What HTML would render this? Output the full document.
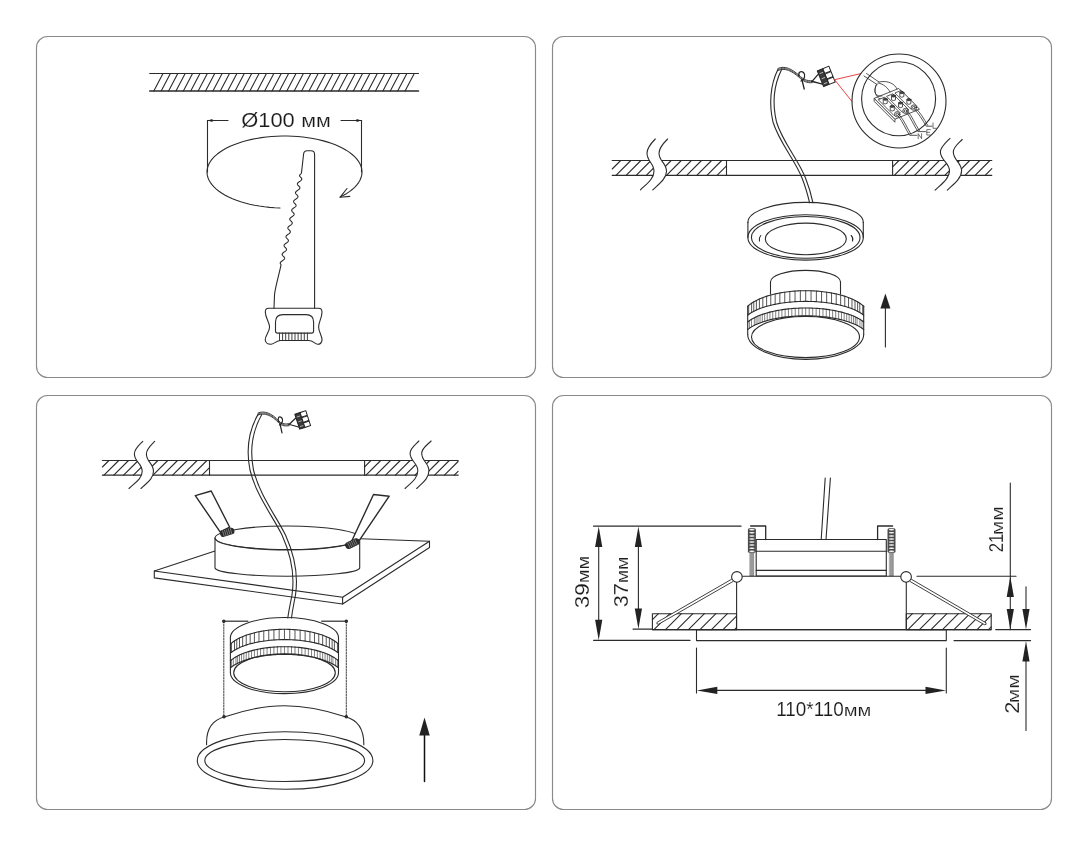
<!DOCTYPE html>
<html><head><meta charset="utf-8"><style>
html,body{margin:0;padding:0;background:#fff;}
svg{display:block;}
</style></head><body>
<svg width="1088" height="846" viewBox="0 0 1088 846">
<rect width="1088" height="846" fill="#fff"/>
<g fill="none" stroke="#8a8a8a" stroke-width="1.15">
<rect x="36.5" y="36.5" width="499" height="341" rx="11" ry="11"/>
<rect x="552.5" y="36.5" width="499" height="341" rx="11" ry="11"/>
<rect x="36.5" y="395.5" width="499" height="414" rx="11" ry="11"/>
<rect x="552.5" y="395.5" width="499" height="414" rx="11" ry="11"/>
</g>
<g fill="none" stroke="#2b2b2b" stroke-width="1.1" stroke-linecap="round" stroke-linejoin="round">
<line x1="149.7" y1="73.5" x2="418.5" y2="73.5" stroke-width="1.1"/>
<line x1="149.7" y1="91" x2="418.5" y2="91" stroke-width="1.6"/>
<line x1="153.8" y1="91" x2="163" y2="73.5"/>
<line x1="161.19" y1="91" x2="170.39" y2="73.5"/>
<line x1="168.58" y1="91" x2="177.78" y2="73.5"/>
<line x1="175.97" y1="91" x2="185.17" y2="73.5"/>
<line x1="183.36" y1="91" x2="192.56" y2="73.5"/>
<line x1="190.75" y1="91" x2="199.95" y2="73.5"/>
<line x1="198.14" y1="91" x2="207.34" y2="73.5"/>
<line x1="205.53" y1="91" x2="214.73" y2="73.5"/>
<line x1="212.92" y1="91" x2="222.12" y2="73.5"/>
<line x1="220.31" y1="91" x2="229.51" y2="73.5"/>
<line x1="227.7" y1="91" x2="236.9" y2="73.5"/>
<line x1="235.09" y1="91" x2="244.29" y2="73.5"/>
<line x1="242.48" y1="91" x2="251.68" y2="73.5"/>
<line x1="249.87" y1="91" x2="259.07" y2="73.5"/>
<line x1="257.26" y1="91" x2="266.46" y2="73.5"/>
<line x1="264.65" y1="91" x2="273.85" y2="73.5"/>
<line x1="272.04" y1="91" x2="281.24" y2="73.5"/>
<line x1="279.43" y1="91" x2="288.63" y2="73.5"/>
<line x1="286.82" y1="91" x2="296.02" y2="73.5"/>
<line x1="294.21" y1="91" x2="303.41" y2="73.5"/>
<line x1="301.6" y1="91" x2="310.8" y2="73.5"/>
<line x1="308.99" y1="91" x2="318.19" y2="73.5"/>
<line x1="316.38" y1="91" x2="325.58" y2="73.5"/>
<line x1="323.77" y1="91" x2="332.97" y2="73.5"/>
<line x1="331.16" y1="91" x2="340.36" y2="73.5"/>
<line x1="338.55" y1="91" x2="347.75" y2="73.5"/>
<line x1="345.94" y1="91" x2="355.14" y2="73.5"/>
<line x1="353.33" y1="91" x2="362.53" y2="73.5"/>
<line x1="360.72" y1="91" x2="369.92" y2="73.5"/>
<line x1="368.11" y1="91" x2="377.31" y2="73.5"/>
<line x1="375.5" y1="91" x2="384.7" y2="73.5"/>
<line x1="382.89" y1="91" x2="392.09" y2="73.5"/>
<line x1="390.28" y1="91" x2="399.48" y2="73.5"/>
<line x1="397.67" y1="91" x2="406.87" y2="73.5"/>
<line x1="405.06" y1="91" x2="414.26" y2="73.5"/>
<line x1="207.5" y1="120.5" x2="228" y2="120.5"/>
<line x1="341" y1="120.5" x2="361.5" y2="120.5"/>
<line x1="207.5" y1="120.5" x2="207.5" y2="172"/>
<line x1="361.5" y1="120.5" x2="361.5" y2="172"/>
<polygon points="207.5,120.5 212.5,119 212.5,122" fill="#222" stroke="none"/>
<polygon points="361.5,120.5 356.5,119 356.5,122" fill="#222" stroke="none"/>
<path d="M280,207.94 L274.77,207.71 L269.58,207.33 L264.46,206.78 L259.43,206.06 L254.51,205.2 L249.74,204.18 L245.12,203.01 L240.69,201.7 L236.46,200.25 L232.45,198.67 L228.67,196.97 L225.16,195.16 L221.92,193.23 L218.96,191.21 L216.31,189.11 L213.97,186.92 L211.95,184.66 L210.27,182.35 L208.93,179.99 L207.94,177.59 L207.3,175.17 L207.02,172.73 L207.09,170.29 L207.52,167.86 L208.3,165.44 L209.43,163.06 L210.91,160.71 L212.72,158.42 L214.87,156.19 L217.34,154.04 L220.11,151.96 L223.18,149.98 L226.54,148.1 L230.16,146.33 L234.03,144.68 L238.13,143.15 L242.45,141.76 L246.95,140.51 L251.64,139.4 L256.47,138.44 L261.43,137.63 L266.5,136.98 L271.65,136.5 L276.86,136.18 L282.11,136.02 L287.36,136.02 L292.61,136.2 L297.81,136.53 L302.96,137.04 L308.02,137.7 L312.97,138.52 L317.79,139.49 L322.45,140.61 L326.95,141.88 L331.25,143.29 L335.33,144.82 L339.18,146.49 L342.77,148.27 L346.1,150.16 L349.15,152.15 L351.9,154.23 L354.34,156.39 L356.45,158.63 L358.24,160.92 L359.69,163.27 L360.79,165.66 L361.54,168.07 L361.93,170.51 L361.97,172.95 L361.66,175.39 L360.98,177.81 L359.96,180.2 L358.59,182.56 L356.88,184.87 L354.84,187.12 L352.47,189.3 L349.79,191.4 L346.81,193.41 L343.54,195.32 L340,197.13 "/>
<path d="M347,188.5 L340.2,197.2 L349.8,196.4"/>
<path d="M314.6,308.3 L314.6,154.5 Q314.6,150.8 311,150.8 L307,150.8 Q304,150.8 303.6,154 L301.5,172.7 L301.5,172.7 L301.36,173.1 L301.1,173.5 L300.77,173.9 L300.4,174.3 L300.05,174.7 L299.76,175.1 L299.58,175.5 L299.56,175.9 L299.8,176.3 L300.15,176.7 L300.55,177.1 L300.94,177.5 L301.29,177.9 L301.57,178.3 L301.75,178.7 L301.8,179.1 L301.71,179.5 L301.49,179.9 L301.14,180.3 L300.69,180.7 L300.16,181.1 L299.59,181.5 L299.03,181.9 L298.5,182.3 L298.05,182.7 L297.7,183.1 L297.48,183.5 L297.39,183.9 L297.44,184.3 L297.62,184.7 L297.89,185.1 L298.25,185.5 L298.64,185.9 L299.03,186.3 L299.39,186.7 L299.66,187.1 L299.84,187.5 L299.89,187.9 L299.8,188.3 L299.58,188.7 L299.23,189.1 L298.78,189.5 L298.25,189.9 L297.69,190.3 L297.12,190.7 L296.59,191.1 L296.14,191.5 L295.79,191.9 L295.57,192.3 L295.48,192.7 L295.53,193.1 L295.71,193.5 L295.99,193.9 L296.34,194.3 L296.73,194.7 L297.13,195.1 L297.48,195.5 L297.76,195.9 L297.93,196.3 L297.98,196.7 L297.9,197.1 L297.67,197.5 L297.32,197.9 L296.87,198.3 L296.35,198.7 L295.78,199.1 L295.21,199.5 L294.69,199.9 L294.23,200.3 L293.89,200.7 L293.66,201.1 L293.58,201.5 L293.63,201.9 L293.8,202.3 L294.08,202.7 L294.43,203.1 L294.83,203.5 L295.22,203.9 L295.57,204.3 L295.85,204.7 L296.03,205.1 L296.08,205.5 L295.99,205.9 L295.77,206.3 L295.42,206.7 L294.97,207.1 L294.44,207.5 L293.87,207.9 L293.31,208.3 L292.78,208.7 L292.33,209.1 L291.98,209.5 L291.76,209.9 L291.67,210.3 L291.72,210.7 L291.89,211.1 L292.17,211.5 L292.53,211.9 L292.92,212.3 L293.31,212.7 L293.67,213.1 L293.94,213.5 L294.12,213.9 L294.17,214.3 L294.08,214.7 L293.86,215.1 L293.51,215.5 L293.06,215.9 L292.53,216.3 L291.97,216.7 L291.4,217.1 L290.87,217.5 L290.42,217.9 L290.07,218.3 L289.85,218.7 L289.76,219.1 L289.81,219.5 L289.99,219.9 L290.27,220.3 L290.62,220.7 L291.01,221.1 L291.4,221.5 L291.76,221.9 L292.04,222.3 L292.21,222.7 L292.26,223.1 L292.18,223.5 L291.95,223.9 L291.6,224.3 L291.15,224.7 L290.62,225.1 L290.06,225.5 L289.49,225.9 L288.97,226.3 L288.51,226.7 L288.17,227.1 L287.94,227.5 L287.86,227.9 L287.91,228.3 L288.08,228.7 L288.36,229.1 L288.71,229.5 L289.11,229.9 L289.5,230.3 L289.85,230.7 L290.13,231.1 L290.31,231.5 L290.35,231.9 L290.27,232.3 L290.05,232.7 L289.7,233.1 L289.24,233.5 L288.72,233.9 L288.15,234.3 L287.59,234.7 L287.06,235.1 L286.61,235.5 L286.26,235.9 L286.04,236.3 L285.95,236.7 L286,237.1 L286.17,237.5 L286.45,237.9 L286.81,238.3 L287.2,238.7 L287.59,239.1 L287.94,239.5 L288.22,239.9 L288.4,240.3 L288.45,240.7 L288.36,241.1 L288.14,241.5 L287.79,241.9 L287.34,242.3 L286.81,242.7 L286.25,243.1 L285.68,243.5 L285.15,243.9 L284.7,244.3 L284.35,244.7 L284.13,245.1 L284.04,245.5 L284.09,245.9 L284.27,246.3 L284.55,246.7 L284.9,247.1 L285.29,247.5 L285.68,247.9 L286.04,248.3 L286.32,248.7 L286.49,249.1 L286.54,249.5 L286.45,249.9 L286.23,250.3 L285.88,250.7 L285.43,251.1 L284.9,251.5 L284.34,251.9 L283.77,252.3 L283.25,252.7 L282.79,253.1 L282.45,253.5 L282.22,253.9 L282.14,254.3 L282.19,254.7 L282.36,255.1 L282.64,255.5 L282.99,255.9 L283.39,256.3 L283.78,256.7 L284.13,257.1 L284.41,257.5 L284.58,257.9 L284.63,258.3 L284.55,258.7 L284.32,259.1 L283.98,259.5 L283.52,259.9 L283,260.3 L282.43,260.7 L281.87,261.1 L281.34,261.5 L280.89,261.9 L280.54,262.3 L280.32,262.7 L280.23,263.1 L280.28,263.5 L280.45,263.9 L280.73,264.3 L281.09,264.7 C279,275 275,288 274.5,295 L274,308.3"/>
<path d="M268.5,308.3 L318.5,308.3 Q322,308.3 322,312 C322,318 318.6,322 318.6,327.1 C318.6,332 322.5,336 322,340.5 Q321,344.5 317.5,344.3 C314,343.5 313,340.5 309,340.5 L280.5,340.5 C276.5,340.5 275,343.5 271.2,344.3 Q266,344.5 265.2,340 C264.8,336 269.6,332 269.6,327.1 C269.6,322 265.3,318 265.3,312 Q265.3,308.3 268.5,308.3 Z" stroke-width="1.1"/>
<path d="M275.5,331 L275.5,322 Q275.5,314.6 283,314.6 L306,314.6 Q313.6,314.6 313.6,322 L313.6,331 Q313.6,333.1 311.5,333.1 L277.5,333.1 Q275.5,333.1 275.5,331 Z" stroke-width="1.1"/>
<line x1="279.5" y1="333.1" x2="279.5" y2="340.5" stroke-width="0.9"/>
<line x1="282.6" y1="333.1" x2="282.6" y2="340.5" stroke-width="0.9"/>
<line x1="285.7" y1="333.1" x2="285.7" y2="340.5" stroke-width="0.9"/>
<line x1="288.8" y1="333.1" x2="288.8" y2="340.5" stroke-width="0.9"/>
<line x1="291.9" y1="333.1" x2="291.9" y2="340.5" stroke-width="0.9"/>
<line x1="295" y1="333.1" x2="295" y2="340.5" stroke-width="0.9"/>
<line x1="298.1" y1="333.1" x2="298.1" y2="340.5" stroke-width="0.9"/>
<line x1="301.2" y1="333.1" x2="301.2" y2="340.5" stroke-width="0.9"/>
<line x1="304.3" y1="333.1" x2="304.3" y2="340.5" stroke-width="0.9"/>
<line x1="307.4" y1="333.1" x2="307.4" y2="340.5" stroke-width="0.9"/>
<line x1="612.2" y1="160.5" x2="991.8" y2="160.5" stroke-width="1.2"/>
<line x1="612.2" y1="175.3" x2="991.8" y2="175.3" stroke-width="1.2"/>
<line x1="726.5" y1="160.5" x2="726.5" y2="175.3"/>
<line x1="892.6" y1="160.5" x2="892.6" y2="175.3"/>
<line x1="612.2" y1="169" x2="620.7" y2="160.5"/>
<line x1="616" y1="175.3" x2="630.8" y2="160.5"/>
<line x1="626.1" y1="175.3" x2="640.9" y2="160.5"/>
<line x1="636.2" y1="175.3" x2="651" y2="160.5"/>
<line x1="646.3" y1="175.3" x2="661.1" y2="160.5"/>
<line x1="656.4" y1="175.3" x2="671.2" y2="160.5"/>
<line x1="666.5" y1="175.3" x2="681.3" y2="160.5"/>
<line x1="676.6" y1="175.3" x2="691.4" y2="160.5"/>
<line x1="686.7" y1="175.3" x2="701.5" y2="160.5"/>
<line x1="696.8" y1="175.3" x2="711.6" y2="160.5"/>
<line x1="706.9" y1="175.3" x2="721.7" y2="160.5"/>
<line x1="717" y1="175.3" x2="726.5" y2="165.8"/>
<line x1="892.6" y1="166.9" x2="899" y2="160.5"/>
<line x1="894.3" y1="175.3" x2="909.1" y2="160.5"/>
<line x1="904.4" y1="175.3" x2="919.2" y2="160.5"/>
<line x1="914.5" y1="175.3" x2="929.3" y2="160.5"/>
<line x1="924.6" y1="175.3" x2="939.4" y2="160.5"/>
<line x1="934.7" y1="175.3" x2="949.5" y2="160.5"/>
<line x1="944.8" y1="175.3" x2="959.6" y2="160.5"/>
<line x1="954.9" y1="175.3" x2="969.7" y2="160.5"/>
<line x1="965" y1="175.3" x2="979.8" y2="160.5"/>
<line x1="975.1" y1="175.3" x2="989.9" y2="160.5"/>
<line x1="985.2" y1="175.3" x2="991.8" y2="168.7"/>
<path d="M655.3,139 C651.3,143 647,148.2 647,153.2 C647,161.2 654,163.2 654,171.2 C654,179.2 645.5,184.8 640.5,189.8 L652.8,189.8 C657.8,184.8 666.5,179.2 666.5,171.2 C666.5,163.2 659,161.2 659,153.2 C659,148.2 663.6,143 667.6,139 Z" fill="#fff" stroke="none"/>
<path d="M655.3,139 C651.3,143 647,148.2 647,153.2 C647,161.2 654,163.2 654,171.2 C654,179.2 645.5,184.8 640.5,189.8"/>
<path d="M667.6,139 C663.6,143 659,148.2 659,153.2 C659,161.2 666.5,163.2 666.5,171.2 C666.5,179.2 657.8,184.8 652.8,189.8"/>
<path d="M950,138.3 C946,142.3 940.4,147 940.4,152 C940.4,160 949.5,162.8 949.5,170.8 C949.5,178.8 940.1,185.1 935.1,190.1 L947.3,190.1 C952.3,185.1 961.6,178.8 961.6,170.8 C961.6,162.8 953.3,160 953.3,152 C953.3,147 958.2,143.5 962.2,139.5 Z" fill="#fff" stroke="none"/>
<path d="M950,138.3 C946,142.3 940.4,147 940.4,152 C940.4,160 949.5,162.8 949.5,170.8 C949.5,178.8 940.1,185.1 935.1,190.1"/>
<path d="M962.2,139.5 C958.2,143.5 953.3,147 953.3,152 C953.3,160 961.6,162.8 961.6,170.8 C961.6,178.8 952.3,185.1 947.3,190.1"/>
<path d="M778,69.2 C770,85 769,105 773,122 C779,142 795,160 802,178 C806,188 808,196 809.6,202.8"/>
<path d="M781.5,69.8 C773.5,86 772.5,105 776.5,122 C782.5,142 798.5,160 805.5,178 C809.5,188 811.5,196 813,202.8"/>
<path d="M778,68.4 C785,65.2 792,69.2 799,75.2 C803,79.2 807,81.2 812,80.7" stroke-width="0.9" stroke="#222"/>
<path d="M778,69.4 C785,66.2 792,70.2 799,76.2 C803,80.2 807,82.2 812,81.7" stroke-width="0.9" stroke="#555"/>
<path d="M778,70.4 C785,67.2 792,71.2 799,77.2 C803,81.2 807,83.2 812,82.7" stroke-width="0.9" stroke="#222"/>
<path d="M812,81.5 C815,78 818,74 821,72" stroke-width="1.3" stroke="#222"/>
<path d="M812,81.5 C816,82 819,83.5 822.6,84" stroke-width="1.3" stroke="#222"/>
<path d="M799,76 C798,72 801,70.5 803.5,72.5 C806,75 804.5,80 801,81" stroke-width="1.3" stroke="#222"/>
<path d="M802,80 L804.2,89" stroke-width="1.3" stroke="#222"/>
<g transform="translate(826,76.5) rotate(-22) scale(1.0)" stroke-width="1" stroke="#222">
<rect x="-6" y="-8.5" width="6" height="17" fill="#3a3a3a"/>
<rect x="0" y="-8.5" width="6.5" height="5.2" fill="#fff"/>
<rect x="0" y="-2.6" width="6.5" height="5.2" fill="#fff"/>
<rect x="0" y="3.3" width="6.5" height="5.2" fill="#fff"/>
<path d="M-4.5,-5 L-1.5,-5 M-4.5,0.5 L-1.5,0.5 M-4.5,6 L-1.5,6" stroke="#ddd" stroke-width="0.7"/>
</g>
<path d="M834.6,79.7 L860.8,73.6 M834.6,79.7 L852,101.5" stroke="#e03030" stroke-width="0.9"/>
<circle cx="899" cy="101" r="47"/>
<circle cx="898.6" cy="98.8" r="37"/>
<g stroke-width="0.8">
<polygon points="874.48,98.63 894.92,119.19 894.92,122.19 874.48,101.63" fill="#fff"/>
<polygon points="874.48,98.63 894.92,119.19 919.49,109.28 899.04,88.72" fill="#fff"/>
<path d="M864,76 L877,84.5 M866.5,73.5 L879,82"/>
<path d="M877,84 C872,92 876,97 882,96"/>
<path d="M878,83 C884,84 888,88 890,92"/>
<path d="M879,82 C888,80 895,84 897,89"/>
<path d="M876,85 C872,96 880,100 884,100"/>
<polygon points="895.14,93.27 910.65,108.87 916.95,106.33 901.44,90.73" fill="#fff"/>
<circle cx="913.8" cy="107.6" r="2.7" fill="#fff"/>
<circle cx="913.8" cy="107.6" r="1.3"/>
<path d="M899.82,92.55 L899.82,96.55 Q901.82,97.95 903.82,96.55 L903.82,92.55" fill="#fff"/>
<ellipse cx="901.82" cy="92.55" rx="2" ry="1.1" fill="#444"/>
<path d="M906.87,99.64 L906.87,103.64 Q908.87,105.04 910.87,103.64 L910.87,99.64" fill="#fff"/>
<ellipse cx="908.87" cy="99.64" rx="2" ry="1.1" fill="#444"/>
<polygon points="886.84,96.62 902.35,112.22 908.65,109.68 893.14,94.08" fill="#fff"/>
<circle cx="905.5" cy="110.95" r="2.7" fill="#fff"/>
<circle cx="905.5" cy="110.95" r="1.3"/>
<path d="M891.51,95.9 L891.51,99.9 Q893.51,101.3 895.51,99.9 L895.51,95.9" fill="#fff"/>
<ellipse cx="893.51" cy="95.9" rx="2" ry="1.1" fill="#444"/>
<path d="M898.57,102.99 L898.57,106.99 Q900.57,108.39 902.57,106.99 L902.57,102.99" fill="#fff"/>
<ellipse cx="900.57" cy="102.99" rx="2" ry="1.1" fill="#444"/>
<polygon points="878.54,99.97 894.05,115.57 900.35,113.03 884.84,97.43" fill="#fff"/>
<circle cx="897.2" cy="114.3" r="2.7" fill="#fff"/>
<circle cx="897.2" cy="114.3" r="1.3"/>
<path d="M883.22,99.25 L883.22,103.25 Q885.22,104.65 887.22,103.25 L887.22,99.25" fill="#fff"/>
<ellipse cx="885.22" cy="99.25" rx="2" ry="1.1" fill="#444"/>
<path d="M890.27,106.34 L890.27,110.34 Q892.27,111.74 894.27,110.34 L894.27,106.34" fill="#fff"/>
<ellipse cx="892.27" cy="106.34" rx="2" ry="1.1" fill="#444"/>
<path d="M898.5,116.5 C903,122 905,128 909.6,135.3 L917,135.3"/>
<path d="M899.8,115.5 C904.5,121 906.5,127 911,134.3"/>
<path d="M906.8,112.8 C911,118 913,124 917.9,131.6 L925.5,131.6"/>
<path d="M908.2,111.8 C912.5,117 914.5,123 919.3,130.6"/>
<path d="M915,110 C919,114 922,119 926.2,126.2 L932,126.2"/>
<path d="M916.4,109 C920.5,113 923.5,118 927.6,125.2"/>
</g>
<g stroke-width="0.75" stroke="#444">
<path d="M918.2,138.7 L918.2,133.7 L921.6,138.7 L921.6,133.7"/>
<path d="M930.3,129.6 L926.8,129.6 L926.8,135 L930.3,135 M926.8,132.3 L929.6,132.3"/>
<path d="M933,123 L933,128.3 L936.5,128.3"/>
</g>
<path d="M747.9,222.4 A57.7,20 0 0 1 863.3,222.4"/>
<line x1="747.9" y1="222.4" x2="747.9" y2="237.4"/>
<line x1="863.3" y1="222.4" x2="863.3" y2="237.4"/>
<ellipse cx="805.6" cy="237.4" rx="57.7" ry="22.7"/>
<ellipse cx="805.7" cy="237.4" rx="54.3" ry="20.9"/>
<ellipse cx="805.8" cy="238.9" rx="40.5" ry="15.8"/>
<path d="M760.8,235.5 Q758.6,238 759.5,241"/>
<path d="M851.2,235.5 Q853.6,238 852.5,241"/>
<path d="M770.5,282 A35,11.6 0 0 1 840.5,282"/>
<line x1="770.5" y1="282" x2="770.5" y2="294"/>
<line x1="840.5" y1="282" x2="840.5" y2="294"/>
<path d="M747.7,306.2 L749.63,304.59 L751.57,303.21 L753.5,301.99 L755.43,300.91 L757.37,299.93 L759.3,299.03 L761.23,298.22 L763.17,297.47 L765.1,296.77 L767.03,296.14 L768.97,295.55 L770.9,295 L772.83,294.5 L774.77,294.03 L776.7,293.6 L778.63,293.21 L780.57,292.85 L782.5,292.52 L784.43,292.22 L786.37,291.95 L788.3,291.71 L790.23,291.49 L792.17,291.3 L794.1,291.14 L796.03,291.01 L797.97,290.9 L799.9,290.81 L801.83,290.75 L803.77,290.71 L805.7,290.7 L807.63,290.71 L809.57,290.75 L811.5,290.81 L813.43,290.9 L815.37,291.01 L817.3,291.14 L819.23,291.3 L821.17,291.49 L823.1,291.71 L825.03,291.95 L826.97,292.22 L828.9,292.52 L830.83,292.85 L832.77,293.21 L834.7,293.6 L836.63,294.03 L838.57,294.5 L840.5,295 L842.43,295.55 L844.37,296.14 L846.3,296.77 L848.23,297.47 L850.17,298.22 L852.1,299.03 L854.03,299.93 L855.97,300.91 L857.9,301.99 L859.83,303.21 L861.77,304.59 L863.7,306.2 "/>
<line x1="747.7" y1="306.2" x2="747.7" y2="334.3"/>
<line x1="863.7" y1="306.2" x2="863.7" y2="334.3"/>
<path d="M747.7,315.2 L749.63,313.77 L751.57,312.54 L753.5,311.45 L755.43,310.49 L757.37,309.61 L759.3,308.82 L761.23,308.09 L763.17,307.42 L765.1,306.81 L767.03,306.24 L768.97,305.71 L770.9,305.23 L772.83,304.78 L774.77,304.37 L776.7,303.98 L778.63,303.63 L780.57,303.31 L782.5,303.02 L784.43,302.75 L786.37,302.51 L788.3,302.3 L790.23,302.11 L792.17,301.94 L794.1,301.79 L796.03,301.67 L797.97,301.57 L799.9,301.5 L801.83,301.44 L803.77,301.41 L805.7,301.4 L807.63,301.41 L809.57,301.44 L811.5,301.5 L813.43,301.57 L815.37,301.67 L817.3,301.79 L819.23,301.94 L821.17,302.11 L823.1,302.3 L825.03,302.51 L826.97,302.75 L828.9,303.02 L830.83,303.31 L832.77,303.63 L834.7,303.98 L836.63,304.37 L838.57,304.78 L840.5,305.23 L842.43,305.71 L844.37,306.24 L846.3,306.81 L848.23,307.42 L850.17,308.09 L852.1,308.82 L854.03,309.61 L855.97,310.49 L857.9,311.45 L859.83,312.54 L861.77,313.77 L863.7,315.2 "/>
<path d="M747.7,322 L749.63,320.55 L751.57,319.3 L753.5,318.2 L755.43,317.22 L757.37,316.33 L759.3,315.53 L761.23,314.79 L763.17,314.11 L765.1,313.49 L767.03,312.91 L768.97,312.38 L770.9,311.88 L772.83,311.43 L774.77,311.01 L776.7,310.62 L778.63,310.27 L780.57,309.94 L782.5,309.64 L784.43,309.37 L786.37,309.13 L788.3,308.91 L790.23,308.72 L792.17,308.55 L794.1,308.4 L796.03,308.28 L797.97,308.18 L799.9,308.1 L801.83,308.04 L803.77,308.01 L805.7,308 L807.63,308.01 L809.57,308.04 L811.5,308.1 L813.43,308.18 L815.37,308.28 L817.3,308.4 L819.23,308.55 L821.17,308.72 L823.1,308.91 L825.03,309.13 L826.97,309.37 L828.9,309.64 L830.83,309.94 L832.77,310.27 L834.7,310.62 L836.63,311.01 L838.57,311.43 L840.5,311.88 L842.43,312.38 L844.37,312.91 L846.3,313.49 L848.23,314.11 L850.17,314.79 L852.1,315.53 L854.03,316.33 L855.97,317.22 L857.9,318.2 L859.83,319.3 L861.77,320.55 L863.7,322 "/>
<line x1="805.7" y1="290.7" x2="805.7" y2="301.4" stroke-width="0.8"/>
<line x1="800.35" y1="290.79" x2="800.35" y2="301.48" stroke-width="0.8"/>
<line x1="811.05" y1="290.79" x2="811.05" y2="301.48" stroke-width="0.8"/>
<line x1="795.04" y1="291.07" x2="795.04" y2="301.73" stroke-width="0.8"/>
<line x1="816.36" y1="291.07" x2="816.36" y2="301.73" stroke-width="0.8"/>
<line x1="789.83" y1="291.54" x2="789.83" y2="302.14" stroke-width="0.8"/>
<line x1="821.57" y1="291.54" x2="821.57" y2="302.14" stroke-width="0.8"/>
<line x1="784.75" y1="292.17" x2="784.75" y2="302.71" stroke-width="0.8"/>
<line x1="826.65" y1="292.17" x2="826.65" y2="302.71" stroke-width="0.8"/>
<line x1="831.55" y1="292.98" x2="831.55" y2="303.43" stroke-width="0.8"/>
<line x1="779.85" y1="292.98" x2="779.85" y2="303.43" stroke-width="0.8"/>
<line x1="775.17" y1="293.94" x2="775.17" y2="304.28" stroke-width="0.8"/>
<line x1="836.23" y1="293.94" x2="836.23" y2="304.28" stroke-width="0.8"/>
<line x1="770.75" y1="295.04" x2="770.75" y2="305.27" stroke-width="0.8"/>
<line x1="840.65" y1="295.04" x2="840.65" y2="305.27" stroke-width="0.8"/>
<line x1="766.63" y1="296.27" x2="766.63" y2="306.36" stroke-width="0.8"/>
<line x1="844.77" y1="296.27" x2="844.77" y2="306.36" stroke-width="0.8"/>
<line x1="762.84" y1="297.59" x2="762.84" y2="307.53" stroke-width="0.8"/>
<line x1="848.56" y1="297.59" x2="848.56" y2="307.53" stroke-width="0.8"/>
<line x1="759.42" y1="298.98" x2="759.42" y2="308.77" stroke-width="0.8"/>
<line x1="851.98" y1="298.98" x2="851.98" y2="308.77" stroke-width="0.8"/>
<line x1="756.39" y1="300.41" x2="756.39" y2="310.05" stroke-width="0.8"/>
<line x1="855.01" y1="300.41" x2="855.01" y2="310.05" stroke-width="0.8"/>
<line x1="753.78" y1="301.83" x2="753.78" y2="311.31" stroke-width="0.8"/>
<line x1="857.62" y1="301.83" x2="857.62" y2="311.31" stroke-width="0.8"/>
<line x1="751.62" y1="303.17" x2="751.62" y2="312.51" stroke-width="0.8"/>
<line x1="859.78" y1="303.17" x2="859.78" y2="312.51" stroke-width="0.8"/>
<line x1="748.69" y1="305.34" x2="748.69" y2="314.44" stroke-width="0.8"/>
<line x1="862.71" y1="305.34" x2="862.71" y2="314.44" stroke-width="0.8"/>
<line x1="805.7" y1="308" x2="805.7" y2="315.8" stroke-width="0.6"/>
<line x1="802.2" y1="308.04" x2="802.2" y2="315.84" stroke-width="0.6"/>
<line x1="809.2" y1="308.04" x2="809.2" y2="315.84" stroke-width="0.6"/>
<line x1="798.71" y1="308.14" x2="798.71" y2="315.94" stroke-width="0.6"/>
<line x1="812.69" y1="308.14" x2="812.69" y2="315.94" stroke-width="0.6"/>
<line x1="795.25" y1="308.32" x2="795.25" y2="316.12" stroke-width="0.6"/>
<line x1="816.15" y1="308.32" x2="816.15" y2="316.12" stroke-width="0.6"/>
<line x1="791.82" y1="308.57" x2="791.82" y2="316.36" stroke-width="0.6"/>
<line x1="819.58" y1="308.57" x2="819.58" y2="316.36" stroke-width="0.6"/>
<line x1="788.44" y1="308.89" x2="788.44" y2="316.68" stroke-width="0.6"/>
<line x1="822.96" y1="308.89" x2="822.96" y2="316.68" stroke-width="0.6"/>
<line x1="785.13" y1="309.28" x2="785.13" y2="317.05" stroke-width="0.6"/>
<line x1="826.27" y1="309.28" x2="826.27" y2="317.05" stroke-width="0.6"/>
<line x1="781.9" y1="309.73" x2="781.9" y2="317.5" stroke-width="0.6"/>
<line x1="829.5" y1="309.73" x2="829.5" y2="317.5" stroke-width="0.6"/>
<line x1="832.65" y1="310.25" x2="832.65" y2="318" stroke-width="0.6"/>
<line x1="778.75" y1="310.25" x2="778.75" y2="318" stroke-width="0.6"/>
<line x1="775.69" y1="310.82" x2="775.69" y2="318.56" stroke-width="0.6"/>
<line x1="835.71" y1="310.82" x2="835.71" y2="318.56" stroke-width="0.6"/>
<line x1="772.75" y1="311.45" x2="772.75" y2="319.17" stroke-width="0.6"/>
<line x1="838.65" y1="311.45" x2="838.65" y2="319.17" stroke-width="0.6"/>
<line x1="769.93" y1="312.13" x2="769.93" y2="319.84" stroke-width="0.6"/>
<line x1="841.47" y1="312.13" x2="841.47" y2="319.84" stroke-width="0.6"/>
<line x1="767.24" y1="312.85" x2="767.24" y2="320.55" stroke-width="0.6"/>
<line x1="844.16" y1="312.85" x2="844.16" y2="320.55" stroke-width="0.6"/>
<line x1="764.69" y1="313.62" x2="764.69" y2="321.29" stroke-width="0.6"/>
<line x1="846.71" y1="313.62" x2="846.71" y2="321.29" stroke-width="0.6"/>
<line x1="762.29" y1="314.41" x2="762.29" y2="322.08" stroke-width="0.6"/>
<line x1="849.11" y1="314.41" x2="849.11" y2="322.08" stroke-width="0.6"/>
<line x1="760.04" y1="315.24" x2="760.04" y2="322.88" stroke-width="0.6"/>
<line x1="851.36" y1="315.24" x2="851.36" y2="322.88" stroke-width="0.6"/>
<line x1="757.97" y1="316.07" x2="757.97" y2="323.7" stroke-width="0.6"/>
<line x1="853.43" y1="316.07" x2="853.43" y2="323.7" stroke-width="0.6"/>
<line x1="756.06" y1="316.92" x2="756.06" y2="324.53" stroke-width="0.6"/>
<line x1="855.34" y1="316.92" x2="855.34" y2="324.53" stroke-width="0.6"/>
<line x1="754.34" y1="317.76" x2="754.34" y2="325.35" stroke-width="0.6"/>
<line x1="857.06" y1="317.76" x2="857.06" y2="325.35" stroke-width="0.6"/>
<line x1="751.47" y1="319.36" x2="751.47" y2="326.91" stroke-width="0.6"/>
<line x1="859.93" y1="319.36" x2="859.93" y2="326.91" stroke-width="0.6"/>
<line x1="749.39" y1="320.72" x2="749.39" y2="328.25" stroke-width="0.6"/>
<line x1="862.01" y1="320.72" x2="862.01" y2="328.25" stroke-width="0.6"/>
<path d="M747.7,329.5 L749.63,328.08 L751.57,326.86 L753.5,325.78 L755.43,324.82 L757.37,323.95 L759.3,323.17 L761.23,322.44 L763.17,321.78 L765.1,321.17 L767.03,320.6 L768.97,320.08 L770.9,319.6 L772.83,319.16 L774.77,318.74 L776.7,318.37 L778.63,318.02 L780.57,317.7 L782.5,317.41 L784.43,317.14 L786.37,316.9 L788.3,316.69 L790.23,316.5 L792.17,316.33 L794.1,316.19 L796.03,316.07 L797.97,315.97 L799.9,315.9 L801.83,315.84 L803.77,315.81 L805.7,315.8 L807.63,315.81 L809.57,315.84 L811.5,315.9 L813.43,315.97 L815.37,316.07 L817.3,316.19 L819.23,316.33 L821.17,316.5 L823.1,316.69 L825.03,316.9 L826.97,317.14 L828.9,317.41 L830.83,317.7 L832.77,318.02 L834.7,318.37 L836.63,318.74 L838.57,319.16 L840.5,319.6 L842.43,320.08 L844.37,320.6 L846.3,321.17 L848.23,321.78 L850.17,322.44 L852.1,323.17 L854.03,323.95 L855.97,324.82 L857.9,325.78 L859.83,326.86 L861.77,328.08 L863.7,329.5 "/>
<path d="M747.7,334.3 A58,25.1 0 0 0 863.7,334.3"/>
<ellipse cx="805.5" cy="337" rx="54" ry="20.6"/>
<line x1="885.4" y1="347" x2="885.4" y2="300"/>
<polygon points="885.4,293.4 880.4,308.4 890.4,308.4" fill="#222" stroke="none"/>
<line x1="102.4" y1="460.5" x2="458.1" y2="460.5" stroke-width="1.2"/>
<line x1="102.4" y1="475.2" x2="458.1" y2="475.2" stroke-width="1.2"/>
<line x1="209.5" y1="460.5" x2="209.5" y2="475.2"/>
<line x1="364.6" y1="460.5" x2="364.6" y2="475.2"/>
<line x1="102.4" y1="467" x2="108.9" y2="460.5"/>
<line x1="104" y1="475.2" x2="118.7" y2="460.5"/>
<line x1="113.8" y1="475.2" x2="128.5" y2="460.5"/>
<line x1="123.6" y1="475.2" x2="138.3" y2="460.5"/>
<line x1="133.4" y1="475.2" x2="148.1" y2="460.5"/>
<line x1="143.2" y1="475.2" x2="157.9" y2="460.5"/>
<line x1="153" y1="475.2" x2="167.7" y2="460.5"/>
<line x1="162.8" y1="475.2" x2="177.5" y2="460.5"/>
<line x1="172.6" y1="475.2" x2="187.3" y2="460.5"/>
<line x1="182.4" y1="475.2" x2="197.1" y2="460.5"/>
<line x1="192.2" y1="475.2" x2="206.9" y2="460.5"/>
<line x1="202" y1="475.2" x2="209.5" y2="467.7"/>
<line x1="364.6" y1="466.8" x2="370.9" y2="460.5"/>
<line x1="366" y1="475.2" x2="380.7" y2="460.5"/>
<line x1="375.8" y1="475.2" x2="390.5" y2="460.5"/>
<line x1="385.6" y1="475.2" x2="400.3" y2="460.5"/>
<line x1="395.4" y1="475.2" x2="410.1" y2="460.5"/>
<line x1="405.2" y1="475.2" x2="419.9" y2="460.5"/>
<line x1="415" y1="475.2" x2="429.7" y2="460.5"/>
<line x1="424.8" y1="475.2" x2="439.5" y2="460.5"/>
<line x1="434.6" y1="475.2" x2="449.3" y2="460.5"/>
<line x1="444.4" y1="475.2" x2="458.1" y2="461.5"/>
<line x1="454.2" y1="475.2" x2="458.1" y2="471.3"/>
<path d="M142.8,441.4 C138.8,445.4 134.4,448.9 134.4,453.9 C134.4,461.9 142.2,463.2 142.2,471.2 C142.2,479.2 134,483.5 129,488.5 L141,488.5 C146,483.5 153.5,479.2 153.5,471.2 C153.5,463.2 146.4,461.9 146.4,453.9 C146.4,448.9 150.7,445.4 154.7,441.4 Z" fill="#fff" stroke="none"/>
<path d="M142.8,441.4 C138.8,445.4 134.4,448.9 134.4,453.9 C134.4,461.9 142.2,463.2 142.2,471.2 C142.2,479.2 134,483.5 129,488.5"/>
<path d="M154.7,441.4 C150.7,445.4 146.4,448.9 146.4,453.9 C146.4,461.9 153.5,463.2 153.5,471.2 C153.5,479.2 146,483.5 141,488.5"/>
<path d="M418.9,441 C414.9,445 410.1,448.2 410.1,453.2 C410.1,461.2 417.8,462.8 417.8,470.8 C417.8,478.8 410.1,483.5 405.1,488.5 L416.7,488.5 C421.7,483.5 428.9,478.8 428.9,470.8 C428.9,462.8 421.7,461.2 421.7,453.2 C421.7,448.2 427.1,445 431.1,441 Z" fill="#fff" stroke="none"/>
<path d="M418.9,441 C414.9,445 410.1,448.2 410.1,453.2 C410.1,461.2 417.8,462.8 417.8,470.8 C417.8,478.8 410.1,483.5 405.1,488.5"/>
<path d="M431.1,441 C427.1,445 421.7,448.2 421.7,453.2 C421.7,461.2 428.9,462.8 428.9,470.8 C428.9,478.8 421.7,483.5 416.7,488.5"/>
<path d="M215,551 L154.3,571 L154.3,577.9 L342.6,604 L429.5,547.5 L429.5,541.2 L360.6,538.7"/>
<path d="M154.3,571 L342.6,597.2 L429.5,541.2"/>
<line x1="342.6" y1="597.2" x2="342.6" y2="604"/>
<path d="M215,538 A72.4,12 0 0 0 359.7,538 L359.7,568 A72.4,8.5 0 0 1 215,568 Z" fill="#fff"/>
<ellipse cx="287.4" cy="538" rx="72.4" ry="12"/>
<path d="M195.3,495.6 L211.2,491 L229.7,527.2 L220.1,531.8 Z" fill="#fff" stroke-width="1.4"/>
<path d="M373.5,494.5 L389.2,496.2 L359.8,539.6 L351.6,541.3 Z" fill="#fff" stroke-width="1.4"/>
<g transform="translate(227.2,532.3) rotate(-17)"><rect x="-6.8" y="-2.8" width="13.6" height="5.6" rx="2.5" fill="#2a2a2a"/><line x1="-4" y1="-2.6" x2="-4" y2="2.6" stroke="#bbb" stroke-width="0.5"/><line x1="-2" y1="-2.6" x2="-2" y2="2.6" stroke="#bbb" stroke-width="0.5"/><line x1="0" y1="-2.6" x2="0" y2="2.6" stroke="#bbb" stroke-width="0.5"/><line x1="2" y1="-2.6" x2="2" y2="2.6" stroke="#bbb" stroke-width="0.5"/><line x1="4" y1="-2.6" x2="4" y2="2.6" stroke="#bbb" stroke-width="0.5"/></g>
<g transform="translate(352.4,543.6) rotate(-25)"><rect x="-7" y="-3" width="14" height="6" rx="2.7" fill="#2a2a2a"/><line x1="-4" y1="-2.6" x2="-4" y2="2.6" stroke="#bbb" stroke-width="0.5"/><line x1="-2" y1="-2.6" x2="-2" y2="2.6" stroke="#bbb" stroke-width="0.5"/><line x1="0" y1="-2.6" x2="0" y2="2.6" stroke="#bbb" stroke-width="0.5"/><line x1="2" y1="-2.6" x2="2" y2="2.6" stroke="#bbb" stroke-width="0.5"/><line x1="4" y1="-2.6" x2="4" y2="2.6" stroke="#bbb" stroke-width="0.5"/></g>
<path d="M258.2,414.1 C249,430 246,450 250,470 C256,495 272,515 282,535 C291,555 295,575 292,595 C290,605 288.5,612 287.8,618"/>
<path d="M261.8,414.6 C252.5,431 249.5,450 253.5,470 C259.5,495 275.5,515 285.5,535 C294.5,555 298.5,575 295.5,595 C293.5,605 292.2,612 291.5,618"/>
<path d="M258,413 C264,410.2 272,413.2 279,421.2 C282,424.2 286,424.2 289,423.7" stroke-width="0.9" stroke="#222"/>
<path d="M258,414 C264,411.2 272,414.2 279,422.2 C282,425.2 286,425.2 289,424.7" stroke-width="0.9" stroke="#555"/>
<path d="M258,415 C264,412.2 272,415.2 279,423.2 C282,426.2 286,426.2 289,425.7" stroke-width="0.9" stroke="#222"/>
<path d="M289,424.5 C292,422 295,418 299,415.5" stroke-width="1.2" stroke="#222"/>
<path d="M289,424.5 C293,425 297,427 301,427.5" stroke-width="1.2" stroke="#222"/>
<path d="M279,422 C277,418 279,415.5 281.5,417.5 C284,420 282,424 279.5,425" stroke-width="1.2" stroke="#222"/>
<path d="M280,424 L282,432.8" stroke-width="1.2" stroke="#222"/>
<g transform="translate(302.5,420) rotate(-18) scale(0.92)" stroke-width="1.09" stroke="#222">
<rect x="-6" y="-8.5" width="6" height="17" fill="#3a3a3a"/>
<rect x="0" y="-8.5" width="6.5" height="5.2" fill="#fff"/>
<rect x="0" y="-2.6" width="6.5" height="5.2" fill="#fff"/>
<rect x="0" y="3.3" width="6.5" height="5.2" fill="#fff"/>
<path d="M-4.5,-5 L-1.5,-5 M-4.5,0.5 L-1.5,0.5 M-4.5,6 L-1.5,6" stroke="#ddd" stroke-width="0.7"/>
</g>
<g stroke-dasharray="1.6,1.2" stroke-width="0.9">
<line x1="223.8" y1="621.3" x2="223.8" y2="716.8"/>
<line x1="346.3" y1="621.3" x2="346.3" y2="716.8"/>
</g>
<line x1="223.8" y1="621.3" x2="247.8" y2="621.3" stroke-width="1.6" stroke="#555"/>
<line x1="321.8" y1="621.3" x2="346.3" y2="621.3" stroke-width="1.6" stroke="#555"/>
<circle cx="223.8" cy="621.3" r="1.2" fill="#333"/>
<circle cx="346.3" cy="621.3" r="1.2" fill="#333"/>
<circle cx="224" cy="716.8" r="1.2" fill="#333"/>
<circle cx="346.3" cy="716.8" r="1.2" fill="#333"/>
<path d="M230.4,637.7 A54.05,20.2 0 0 1 338.5,637.7"/>
<line x1="230.4" y1="637.7" x2="230.4" y2="672.5"/>
<line x1="338.5" y1="637.7" x2="338.5" y2="672.5"/>
<path d="M230.4,644.1 L232.2,642.56 L234,641.24 L235.81,640.08 L237.61,639.05 L239.41,638.11 L241.21,637.26 L243.01,636.48 L244.81,635.76 L246.62,635.1 L248.42,634.49 L250.22,633.93 L252.02,633.41 L253.82,632.93 L255.62,632.48 L257.43,632.07 L259.23,631.7 L261.03,631.35 L262.83,631.04 L264.63,630.75 L266.43,630.49 L268.24,630.26 L270.04,630.06 L271.84,629.88 L273.64,629.72 L275.44,629.59 L277.24,629.49 L279.05,629.41 L280.85,629.35 L282.65,629.31 L284.45,629.3 L286.25,629.31 L288.05,629.35 L289.86,629.41 L291.66,629.49 L293.46,629.59 L295.26,629.72 L297.06,629.88 L298.86,630.06 L300.67,630.26 L302.47,630.49 L304.27,630.75 L306.07,631.04 L307.87,631.35 L309.67,631.7 L311.48,632.07 L313.28,632.48 L315.08,632.93 L316.88,633.41 L318.68,633.93 L320.48,634.49 L322.28,635.1 L324.09,635.76 L325.89,636.48 L327.69,637.26 L329.49,638.11 L331.29,639.05 L333.1,640.08 L334.9,641.24 L336.7,642.56 L338.5,644.1 "/>
<path d="M230.4,653.1 L232.2,651.7 L234,650.49 L235.81,649.44 L237.61,648.49 L239.41,647.64 L241.21,646.86 L243.01,646.15 L244.81,645.49 L246.62,644.89 L248.42,644.33 L250.22,643.82 L252.02,643.35 L253.82,642.91 L255.62,642.5 L257.43,642.13 L259.23,641.79 L261.03,641.47 L262.83,641.18 L264.63,640.92 L266.43,640.69 L268.24,640.48 L270.04,640.29 L271.84,640.13 L273.64,639.99 L275.44,639.87 L277.24,639.77 L279.05,639.7 L280.85,639.64 L282.65,639.61 L284.45,639.6 L286.25,639.61 L288.05,639.64 L289.86,639.7 L291.66,639.77 L293.46,639.87 L295.26,639.99 L297.06,640.13 L298.86,640.29 L300.67,640.48 L302.47,640.69 L304.27,640.92 L306.07,641.18 L307.87,641.47 L309.67,641.79 L311.48,642.13 L313.28,642.5 L315.08,642.91 L316.88,643.35 L318.68,643.82 L320.48,644.33 L322.28,644.89 L324.09,645.49 L325.89,646.15 L327.69,646.86 L329.49,647.64 L331.29,648.49 L333.1,649.44 L334.9,650.49 L336.7,651.7 L338.5,653.1 "/>
<path d="M230.4,660.8 L232.2,659.34 L234,658.08 L235.81,656.97 L237.61,655.98 L239.41,655.09 L241.21,654.28 L243.01,653.54 L244.81,652.85 L246.62,652.23 L248.42,651.64 L250.22,651.11 L252.02,650.61 L253.82,650.15 L255.62,649.73 L257.43,649.34 L259.23,648.98 L261.03,648.65 L262.83,648.35 L264.63,648.08 L266.43,647.84 L268.24,647.62 L270.04,647.42 L271.84,647.25 L273.64,647.1 L275.44,646.98 L277.24,646.88 L279.05,646.8 L280.85,646.74 L282.65,646.71 L284.45,646.7 L286.25,646.71 L288.05,646.74 L289.86,646.8 L291.66,646.88 L293.46,646.98 L295.26,647.1 L297.06,647.25 L298.86,647.42 L300.67,647.62 L302.47,647.84 L304.27,648.08 L306.07,648.35 L307.87,648.65 L309.67,648.98 L311.48,649.34 L313.28,649.73 L315.08,650.15 L316.88,650.61 L318.68,651.11 L320.48,651.64 L322.28,652.23 L324.09,652.85 L325.89,653.54 L327.69,654.28 L329.49,655.09 L331.29,655.98 L333.1,656.97 L334.9,658.08 L336.7,659.34 L338.5,660.8 "/>
<line x1="284.45" y1="629.3" x2="284.45" y2="639.6" stroke-width="0.8"/>
<line x1="279.15" y1="629.4" x2="279.15" y2="639.69" stroke-width="0.8"/>
<line x1="289.75" y1="629.4" x2="289.75" y2="639.69" stroke-width="0.8"/>
<line x1="273.91" y1="629.7" x2="273.91" y2="639.97" stroke-width="0.8"/>
<line x1="294.99" y1="629.7" x2="294.99" y2="639.97" stroke-width="0.8"/>
<line x1="268.76" y1="630.2" x2="268.76" y2="640.42" stroke-width="0.8"/>
<line x1="300.14" y1="630.2" x2="300.14" y2="640.42" stroke-width="0.8"/>
<line x1="263.77" y1="630.88" x2="263.77" y2="641.05" stroke-width="0.8"/>
<line x1="305.13" y1="630.88" x2="305.13" y2="641.05" stroke-width="0.8"/>
<line x1="258.97" y1="631.75" x2="258.97" y2="641.83" stroke-width="0.8"/>
<line x1="309.93" y1="631.75" x2="309.93" y2="641.83" stroke-width="0.8"/>
<line x1="254.42" y1="632.77" x2="254.42" y2="642.77" stroke-width="0.8"/>
<line x1="314.48" y1="632.77" x2="314.48" y2="642.77" stroke-width="0.8"/>
<line x1="250.16" y1="633.94" x2="250.16" y2="643.84" stroke-width="0.8"/>
<line x1="318.74" y1="633.94" x2="318.74" y2="643.84" stroke-width="0.8"/>
<line x1="246.23" y1="635.24" x2="246.23" y2="645.01" stroke-width="0.8"/>
<line x1="322.67" y1="635.24" x2="322.67" y2="645.01" stroke-width="0.8"/>
<line x1="242.67" y1="636.62" x2="242.67" y2="646.28" stroke-width="0.8"/>
<line x1="326.23" y1="636.62" x2="326.23" y2="646.28" stroke-width="0.8"/>
<line x1="329.39" y1="638.06" x2="329.39" y2="647.59" stroke-width="0.8"/>
<line x1="239.51" y1="638.06" x2="239.51" y2="647.59" stroke-width="0.8"/>
<line x1="236.78" y1="639.51" x2="236.78" y2="648.91" stroke-width="0.8"/>
<line x1="332.12" y1="639.51" x2="332.12" y2="648.91" stroke-width="0.8"/>
<line x1="234.51" y1="640.9" x2="234.51" y2="650.18" stroke-width="0.8"/>
<line x1="334.39" y1="640.9" x2="334.39" y2="650.18" stroke-width="0.8"/>
<line x1="337.46" y1="643.18" x2="337.46" y2="652.26" stroke-width="0.8"/>
<line x1="231.44" y1="643.18" x2="231.44" y2="652.26" stroke-width="0.8"/>
<line x1="284.45" y1="646.7" x2="284.45" y2="654.4" stroke-width="0.6"/>
<line x1="280.91" y1="646.74" x2="280.91" y2="654.44" stroke-width="0.6"/>
<line x1="287.99" y1="646.74" x2="287.99" y2="654.44" stroke-width="0.6"/>
<line x1="277.4" y1="646.87" x2="277.4" y2="654.56" stroke-width="0.6"/>
<line x1="291.5" y1="646.87" x2="291.5" y2="654.56" stroke-width="0.6"/>
<line x1="273.91" y1="647.08" x2="273.91" y2="654.77" stroke-width="0.6"/>
<line x1="294.99" y1="647.08" x2="294.99" y2="654.77" stroke-width="0.6"/>
<line x1="270.46" y1="647.38" x2="270.46" y2="655.05" stroke-width="0.6"/>
<line x1="298.44" y1="647.38" x2="298.44" y2="655.05" stroke-width="0.6"/>
<line x1="267.08" y1="647.75" x2="267.08" y2="655.41" stroke-width="0.6"/>
<line x1="301.82" y1="647.75" x2="301.82" y2="655.41" stroke-width="0.6"/>
<line x1="263.77" y1="648.21" x2="263.77" y2="655.85" stroke-width="0.6"/>
<line x1="305.13" y1="648.21" x2="305.13" y2="655.85" stroke-width="0.6"/>
<line x1="260.54" y1="648.74" x2="260.54" y2="656.35" stroke-width="0.6"/>
<line x1="308.36" y1="648.74" x2="308.36" y2="656.35" stroke-width="0.6"/>
<line x1="311.47" y1="649.34" x2="311.47" y2="656.93" stroke-width="0.6"/>
<line x1="257.42" y1="649.34" x2="257.42" y2="656.93" stroke-width="0.6"/>
<line x1="314.48" y1="650.01" x2="314.48" y2="657.57" stroke-width="0.6"/>
<line x1="254.42" y1="650.01" x2="254.42" y2="657.57" stroke-width="0.6"/>
<line x1="251.55" y1="650.74" x2="251.55" y2="658.27" stroke-width="0.6"/>
<line x1="317.35" y1="650.74" x2="317.35" y2="658.27" stroke-width="0.6"/>
<line x1="248.81" y1="651.52" x2="248.81" y2="659.02" stroke-width="0.6"/>
<line x1="320.09" y1="651.52" x2="320.09" y2="659.02" stroke-width="0.6"/>
<line x1="246.23" y1="652.36" x2="246.23" y2="659.81" stroke-width="0.6"/>
<line x1="322.67" y1="652.36" x2="322.67" y2="659.81" stroke-width="0.6"/>
<line x1="243.81" y1="653.23" x2="243.81" y2="660.65" stroke-width="0.6"/>
<line x1="325.09" y1="653.23" x2="325.09" y2="660.65" stroke-width="0.6"/>
<line x1="327.33" y1="654.13" x2="327.33" y2="661.51" stroke-width="0.6"/>
<line x1="241.57" y1="654.13" x2="241.57" y2="661.51" stroke-width="0.6"/>
<line x1="329.39" y1="655.05" x2="329.39" y2="662.39" stroke-width="0.6"/>
<line x1="239.51" y1="655.05" x2="239.51" y2="662.39" stroke-width="0.6"/>
<line x1="237.64" y1="655.97" x2="237.64" y2="663.27" stroke-width="0.6"/>
<line x1="331.26" y1="655.97" x2="331.26" y2="663.27" stroke-width="0.6"/>
<line x1="235.97" y1="656.88" x2="235.97" y2="664.14" stroke-width="0.6"/>
<line x1="332.93" y1="656.88" x2="332.93" y2="664.14" stroke-width="0.6"/>
<line x1="233.27" y1="658.57" x2="233.27" y2="665.76" stroke-width="0.6"/>
<line x1="335.63" y1="658.57" x2="335.63" y2="665.76" stroke-width="0.6"/>
<line x1="337.46" y1="659.93" x2="337.46" y2="667.06" stroke-width="0.6"/>
<line x1="231.44" y1="659.93" x2="231.44" y2="667.06" stroke-width="0.6"/>
<path d="M230.4,667.9 L232.2,666.5 L234,665.29 L235.81,664.24 L237.61,663.29 L239.41,662.44 L241.21,661.66 L243.01,660.95 L244.81,660.29 L246.62,659.69 L248.42,659.13 L250.22,658.62 L252.02,658.15 L253.82,657.71 L255.62,657.3 L257.43,656.93 L259.23,656.59 L261.03,656.27 L262.83,655.98 L264.63,655.72 L266.43,655.49 L268.24,655.28 L270.04,655.09 L271.84,654.93 L273.64,654.79 L275.44,654.67 L277.24,654.57 L279.05,654.5 L280.85,654.44 L282.65,654.41 L284.45,654.4 L286.25,654.41 L288.05,654.44 L289.86,654.5 L291.66,654.57 L293.46,654.67 L295.26,654.79 L297.06,654.93 L298.86,655.09 L300.67,655.28 L302.47,655.49 L304.27,655.72 L306.07,655.98 L307.87,656.27 L309.67,656.59 L311.48,656.93 L313.28,657.3 L315.08,657.71 L316.88,658.15 L318.68,658.62 L320.48,659.13 L322.28,659.69 L324.09,660.29 L325.89,660.95 L327.69,661.66 L329.49,662.44 L331.29,663.29 L333.1,664.24 L334.9,665.29 L336.7,666.5 L338.5,667.9 "/>
<path d="M230.4,672.5 A54.05,21.1 0 0 0 338.5,672.5"/>
<ellipse cx="284.5" cy="672.8" rx="50.8" ry="19"/>
<path d="M206.6,744.8 C206,730 212,720 225,716.8 C245,710 265,705.8 284.3,705.8 C304,705.8 325,710 345.4,716.8 C358,720 364,730 363.8,744.8"/>
<ellipse cx="285.1" cy="760.5" rx="87.8" ry="28.8"/>
<ellipse cx="284.7" cy="760.5" rx="79.9" ry="21"/>
<line x1="424.5" y1="781.4" x2="424.5" y2="725" stroke-width="1.5" stroke="#111"/>
<polygon points="424.5,717.6 419.25,735.6 429.75,735.6" fill="#222" stroke="none"/>
<line x1="825.2" y1="478" x2="821.2" y2="539.5"/>
<line x1="830.4" y1="478" x2="826" y2="539.5"/>
<rect x="756.2" y="539.5" width="130.1" height="36.5"/>
<line x1="756.2" y1="551.2" x2="886.3" y2="551.2"/>
<line x1="756.2" y1="570.4" x2="886.3" y2="570.4"/>
<path d="M750.6,526 L765.7,526 L765.7,539.5" stroke-width="1.3"/>
<path d="M877.6,539.5 L877.6,526 L892.6,526" stroke-width="1.3"/>
<rect x="747.9" y="528.2" width="8" height="24.6" rx="1.5" fill="#4a4a4a" stroke="none"/>
<ellipse cx="751.9" cy="529.74" rx="2.8" ry="0.75" fill="#fff" stroke="none"/>
<ellipse cx="751.9" cy="532.81" rx="2.8" ry="0.75" fill="#fff" stroke="none"/>
<ellipse cx="751.9" cy="535.89" rx="2.8" ry="0.75" fill="#fff" stroke="none"/>
<ellipse cx="751.9" cy="538.96" rx="2.8" ry="0.75" fill="#fff" stroke="none"/>
<ellipse cx="751.9" cy="542.04" rx="2.8" ry="0.75" fill="#fff" stroke="none"/>
<ellipse cx="751.9" cy="545.11" rx="2.8" ry="0.75" fill="#fff" stroke="none"/>
<ellipse cx="751.9" cy="548.19" rx="2.8" ry="0.75" fill="#fff" stroke="none"/>
<ellipse cx="751.9" cy="551.26" rx="2.8" ry="0.75" fill="#fff" stroke="none"/>
<rect x="750.1" y="552.8" width="3.6" height="23.2" fill="#9a9a9a" stroke="#666" stroke-width="0.5"/>
<rect x="887.5" y="528.2" width="8" height="24.6" rx="1.5" fill="#4a4a4a" stroke="none"/>
<ellipse cx="891.5" cy="529.74" rx="2.8" ry="0.75" fill="#fff" stroke="none"/>
<ellipse cx="891.5" cy="532.81" rx="2.8" ry="0.75" fill="#fff" stroke="none"/>
<ellipse cx="891.5" cy="535.89" rx="2.8" ry="0.75" fill="#fff" stroke="none"/>
<ellipse cx="891.5" cy="538.96" rx="2.8" ry="0.75" fill="#fff" stroke="none"/>
<ellipse cx="891.5" cy="542.04" rx="2.8" ry="0.75" fill="#fff" stroke="none"/>
<ellipse cx="891.5" cy="545.11" rx="2.8" ry="0.75" fill="#fff" stroke="none"/>
<ellipse cx="891.5" cy="548.19" rx="2.8" ry="0.75" fill="#fff" stroke="none"/>
<ellipse cx="891.5" cy="551.26" rx="2.8" ry="0.75" fill="#fff" stroke="none"/>
<rect x="889.7" y="552.8" width="3.6" height="23.2" fill="#9a9a9a" stroke="#666" stroke-width="0.5"/>
<line x1="742.5" y1="576.2" x2="900.6" y2="576.2"/>
<line x1="736.6" y1="582.3" x2="736.6" y2="629.6"/>
<line x1="906.3" y1="582.3" x2="906.3" y2="629.6"/>
<circle cx="736.9" cy="576.9" r="5.3"/>
<circle cx="906.1" cy="576.9" r="5.3"/>
<rect x="652.4" y="613.7" width="84.1" height="15.9"/>
<rect x="906.3" y="613.7" width="84.9" height="15.9"/>
<line x1="652.4" y1="619.7" x2="658.4" y2="613.7"/>
<line x1="654" y1="629.6" x2="669.9" y2="613.7"/>
<line x1="665.5" y1="629.6" x2="681.4" y2="613.7"/>
<line x1="677" y1="629.6" x2="692.9" y2="613.7"/>
<line x1="688.5" y1="629.6" x2="704.4" y2="613.7"/>
<line x1="700" y1="629.6" x2="715.9" y2="613.7"/>
<line x1="711.5" y1="629.6" x2="727.4" y2="613.7"/>
<line x1="723" y1="629.6" x2="736.5" y2="616.1"/>
<line x1="734.5" y1="629.6" x2="736.5" y2="627.6"/>
<line x1="906.3" y1="619.8" x2="912.4" y2="613.7"/>
<line x1="908" y1="629.6" x2="923.9" y2="613.7"/>
<line x1="919.5" y1="629.6" x2="935.4" y2="613.7"/>
<line x1="931" y1="629.6" x2="946.9" y2="613.7"/>
<line x1="942.5" y1="629.6" x2="958.4" y2="613.7"/>
<line x1="954" y1="629.6" x2="969.9" y2="613.7"/>
<line x1="965.5" y1="629.6" x2="981.4" y2="613.7"/>
<line x1="977" y1="629.6" x2="991.2" y2="615.4"/>
<line x1="988.5" y1="629.6" x2="991.2" y2="626.9"/>
<path d="M731.5,579.3 L657,622.3 Q656,624.5 658.6,624.2 L732.8,581.6" stroke-width="0.9" fill="#fff"/>
<path d="M911.5,579.3 L986,622.8 Q987,625 984.4,624.7 L910.2,581.6" stroke-width="0.9" fill="#fff"/>
<rect x="696.5" y="629.6" width="249.8" height="11"/>
<line x1="652.4" y1="629.6" x2="991.2" y2="629.6"/>
<line x1="593.6" y1="526.2" x2="741" y2="526.2" stroke-width="1.25"/>
<line x1="593.6" y1="640.4" x2="690" y2="640.4"/>
<line x1="954" y1="640.6" x2="1030.6" y2="640.6"/>
<line x1="995.7" y1="629.6" x2="1030.6" y2="629.6"/>
<line x1="917" y1="576.3" x2="1016" y2="576.3"/>
<line x1="1010.3" y1="483" x2="1010.3" y2="629.6"/>
<line x1="598.7" y1="535" x2="598.7" y2="631"/>
<polygon points="598.7,526.4 595.1,546.9 602.3,546.9" fill="#222" stroke="none"/>
<polygon points="598.7,640.2 595.1,619.7 602.3,619.7" fill="#222" stroke="none"/>
<line x1="638.4" y1="535" x2="638.4" y2="620"/>
<polygon points="638.4,526.4 634.8,546.9 642,546.9" fill="#222" stroke="none"/>
<polygon points="638.4,629.1 634.8,608.6 642,608.6" fill="#222" stroke="none"/>
<line x1="633" y1="629.1" x2="652" y2="629.1"/>
<polygon points="1010.3,576.5 1006.7,597 1013.9,597" fill="#222" stroke="none"/>
<polygon points="1010.3,629.4 1006.7,608.9 1013.9,608.9" fill="#222" stroke="none"/>
<line x1="1026" y1="586.9" x2="1026" y2="620"/>
<polygon points="1026,629.4 1022.4,608.9 1029.6,608.9" fill="#222" stroke="none"/>
<line x1="1026" y1="650" x2="1026" y2="730.5"/>
<polygon points="1026,641 1022.4,661.5 1029.6,661.5" fill="#222" stroke="none"/>
<line x1="696.5" y1="648" x2="696.5" y2="693"/>
<line x1="946.3" y1="648" x2="946.3" y2="693"/>
<line x1="705" y1="690.4" x2="938" y2="690.4"/>
<polygon points="696.8,690.4 717.3,686.8 717.3,694" fill="#222" stroke="none"/>
<polygon points="946,690.4 925.5,686.8 925.5,694" fill="#222" stroke="none"/>
</g>
<g font-family="Liberation Sans, sans-serif" fill="#1a1a1a" stroke="#fff" stroke-width="0.15" opacity="0.999">
<text x="241.20" y="126.60" font-size="20.5" textLength="53.60" lengthAdjust="spacingAndGlyphs">Ø100</text>
<text x="301.20" y="126.60" font-size="17.6" textLength="29.60" lengthAdjust="spacingAndGlyphs">мм</text>
<text x="776.20" y="716.20" font-size="19.8" textLength="67.60" lengthAdjust="spacingAndGlyphs">110*110</text>
<text x="843.70" y="716.20" font-size="17.4" textLength="27.60" lengthAdjust="spacingAndGlyphs">мм</text>
<text transform="rotate(-90)" x="-608.20" y="588.60" font-size="20.3" textLength="25.10" lengthAdjust="spacingAndGlyphs">39</text>
<text transform="rotate(-90)" x="-583.20" y="588.60" font-size="17.4" textLength="27.60" lengthAdjust="spacingAndGlyphs">мм</text>
<text transform="rotate(-90)" x="-607.20" y="628.30" font-size="20.3" textLength="24.10" lengthAdjust="spacingAndGlyphs">37</text>
<text transform="rotate(-90)" x="-583.20" y="628.30" font-size="17.4" textLength="26.60" lengthAdjust="spacingAndGlyphs">мм</text>
<text transform="rotate(-90)" x="-552.20" y="1003.00" font-size="20.3" textLength="18.60" lengthAdjust="spacingAndGlyphs">21</text>
<text transform="rotate(-90)" x="-535.20" y="1003.00" font-size="17.4" textLength="29.10" lengthAdjust="spacingAndGlyphs">мм</text>
<text transform="rotate(-90)" x="-713.70" y="1019.40" font-size="20.3" textLength="12.10" lengthAdjust="spacingAndGlyphs">2</text>
<text transform="rotate(-90)" x="-703.20" y="1019.40" font-size="17.4" textLength="29.10" lengthAdjust="spacingAndGlyphs">мм</text>
</g>
</svg>
</body></html>
